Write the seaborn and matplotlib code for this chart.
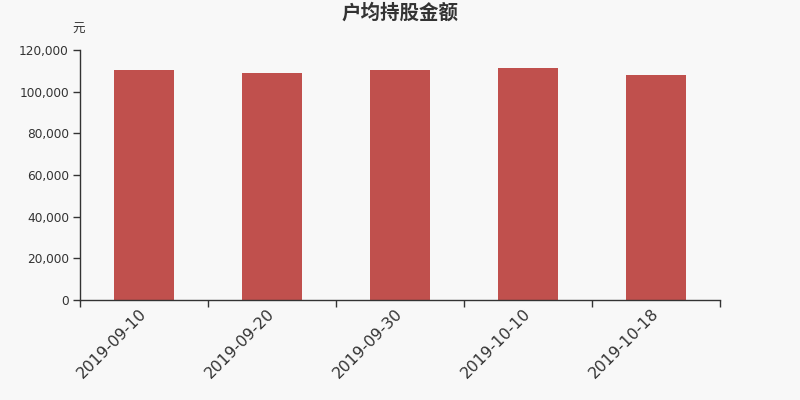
import matplotlib
matplotlib.use("Agg")
import matplotlib.pyplot as plt
import seaborn as sns
import pandas as pd
from matplotlib.ticker import FuncFormatter, FixedLocator

dates = ["2019-09-10", "2019-09-20", "2019-09-30", "2019-10-10", "2019-10-18"]
values = [110200, 109000, 110400, 111600, 108000]
title = "户均持股金额"
unit = "元"

sns.set_theme(style="white")
plt.rcParams['font.family'] = ['DejaVu Sans', 'Noto Sans CJK SC']

bg = "#f8f8f8"
fig = plt.figure(figsize=(8, 4), dpi=100, facecolor=bg)
ax = fig.add_axes([0.1, 0.25, 0.8, 0.625])
ax.set_facecolor(bg)

df = pd.DataFrame({"date": dates, "value": values})
sns.barplot(data=df, x="date", y="value", color="#c0504d", saturation=1,
            width=0.47, linewidth=0, ax=ax)

ax.set_xlim(-0.5, len(dates) - 0.5)
ax.set_ylim(0, 120000)
ax.set_yticks(range(0, 120001, 20000))
ax.yaxis.set_major_formatter(FuncFormatter(lambda v, p: f"{int(v):,}"))
ax.set_xlabel("")
ax.set_ylabel("")

for s in ["top", "right"]:
    ax.spines[s].set_visible(False)
for s in ["left", "bottom"]:
    ax.spines[s].set_color("#333333")
    ax.spines[s].set_linewidth(1)

ax.tick_params(axis="y", which="major", direction="out", length=5, width=1,
               color="#333333", labelcolor="#333333", labelsize=8.7, left=True, pad=3)
ax.xaxis.set_minor_locator(FixedLocator([i - 0.5 for i in range(len(dates) + 1)]))
ax.tick_params(axis="x", which="minor", direction="out", length=5, width=1,
               color="#333333", bottom=True)
ax.tick_params(axis="x", which="major", length=0, labelcolor="#333333",
               labelsize=11.3, pad=8)
for lab in ax.get_xticklabels():
    lab.set_rotation(45)
    lab.set_ha("right")
    lab.set_va("center")
    lab.set_rotation_mode("anchor")

fig.text(0.5, 0.967, title, ha="center", va="center", fontsize=14,
         fontweight="bold", color="#333333",
         family=['Noto Sans CJK SC', 'DejaVu Sans'])
fig.text(0.0985, 0.926, unit, ha="center", va="center", fontsize=9,
         color="#333333", family=['Noto Sans CJK SC', 'DejaVu Sans'])

fig.savefig("out.png", dpi=100, facecolor=bg)
